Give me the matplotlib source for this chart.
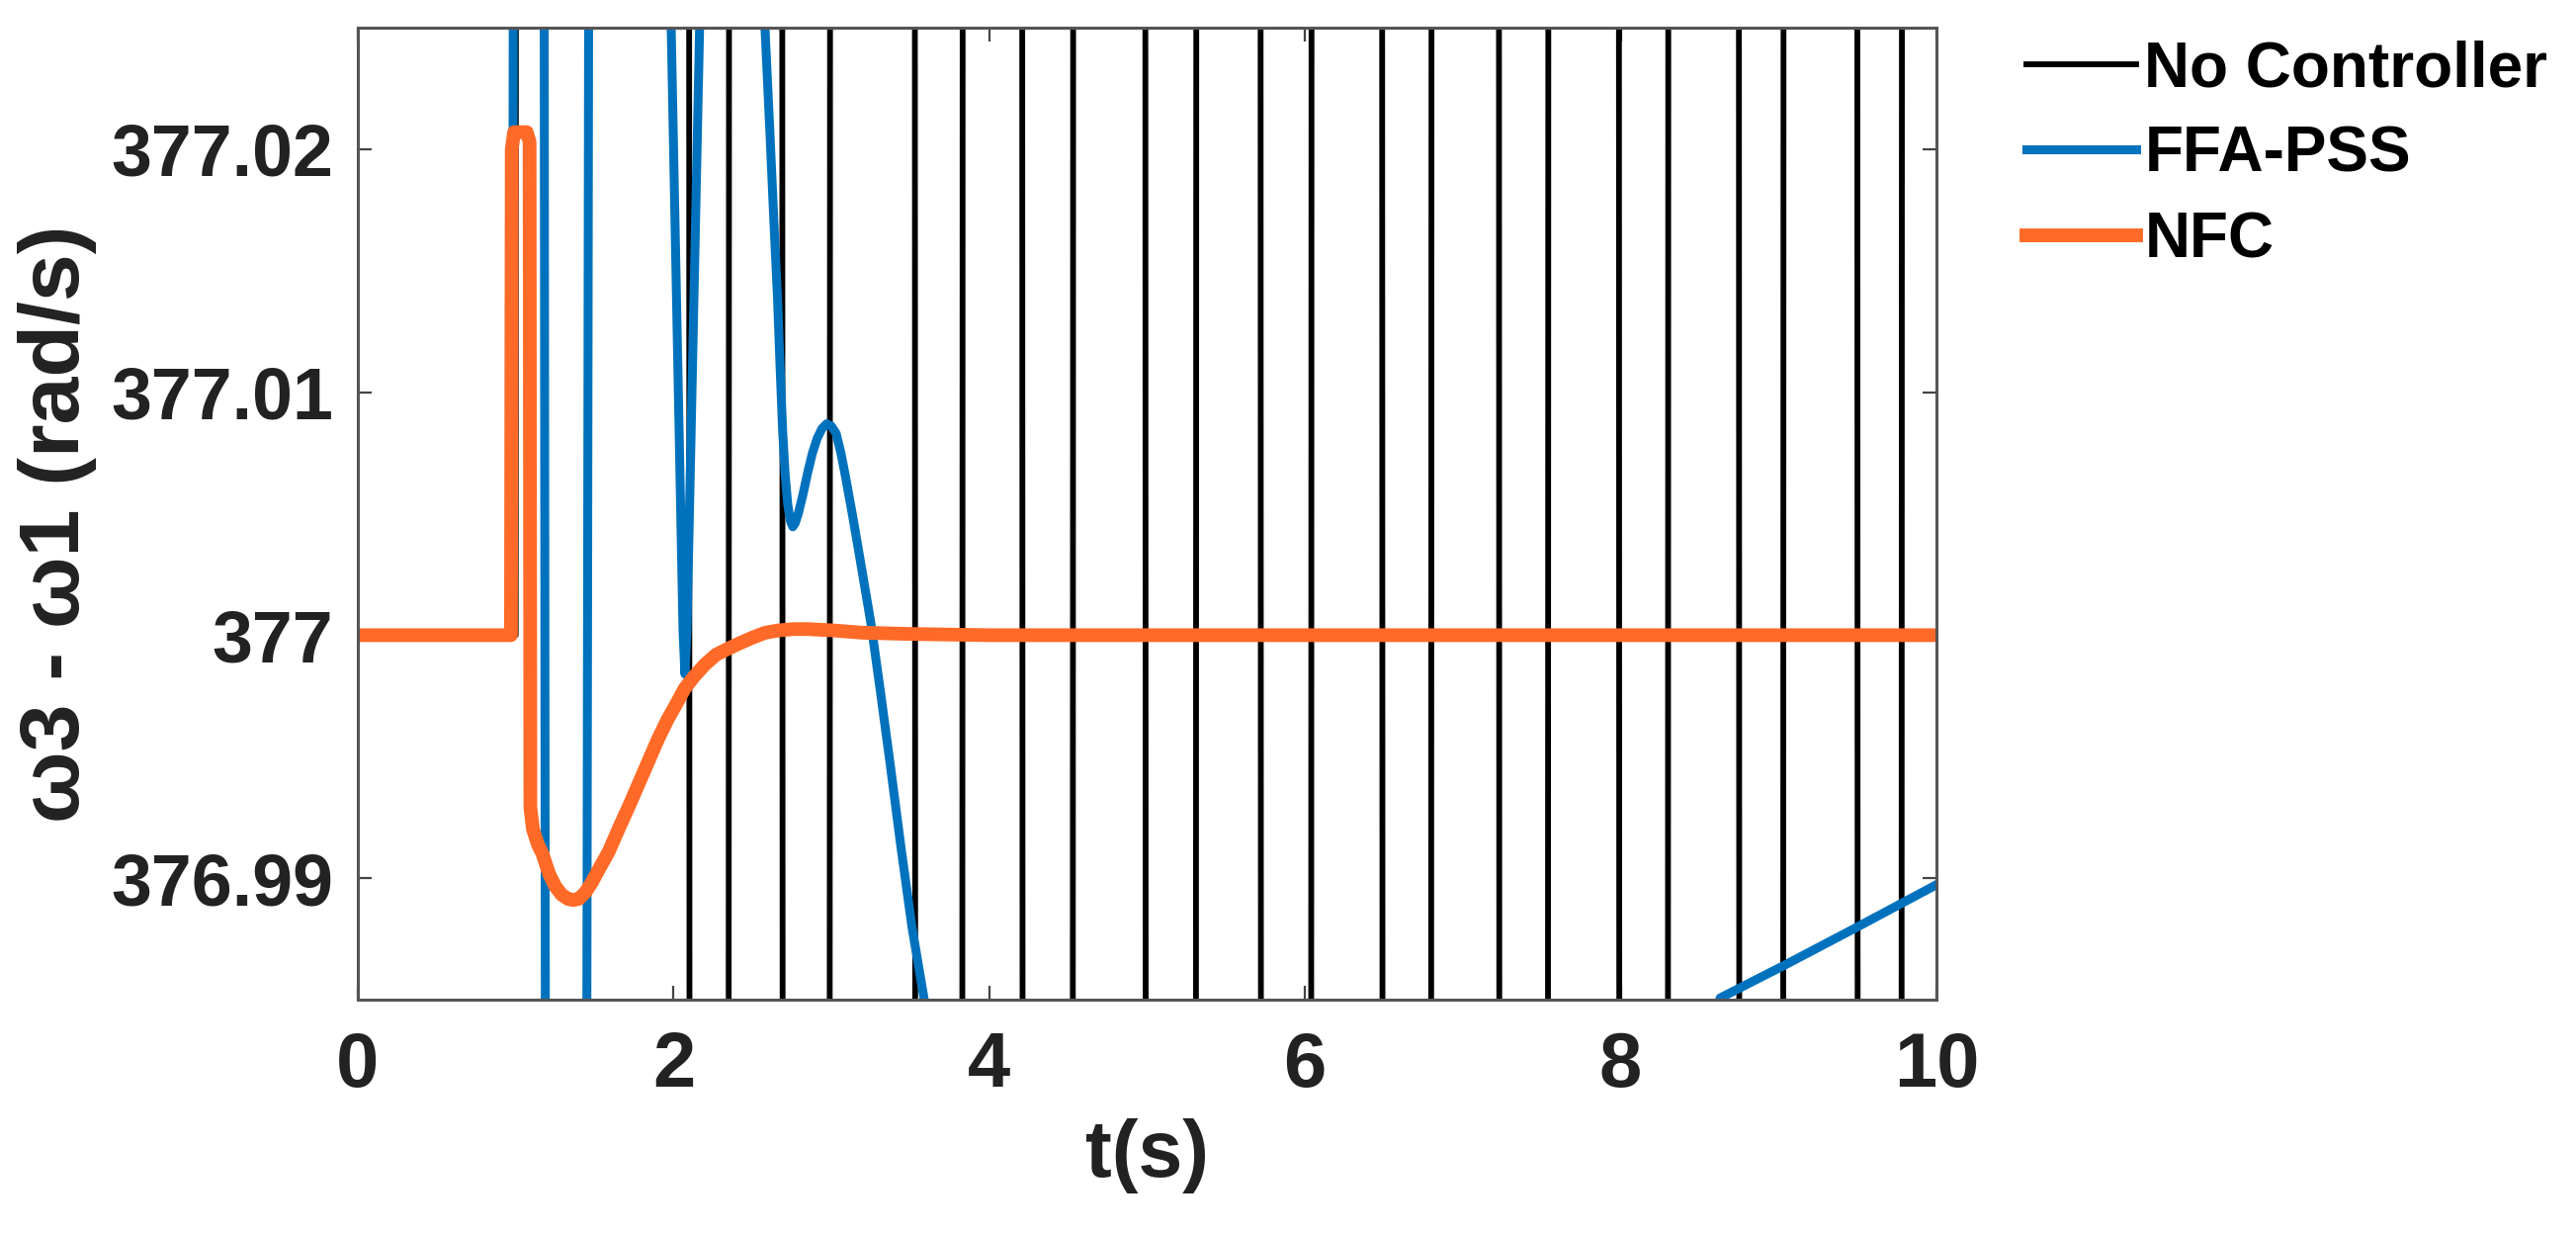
import matplotlib
matplotlib.use("Agg")
import matplotlib.pyplot as plt

# ---------------- data ----------------
# No Controller: wild oscillation; the visible part is near-vertical traversals
nc_t = [0.0, 1.00, 1.03,
        2.07, 2.13, 2.32, 2.38, 2.66, 2.72, 2.96, 3.02, 3.50, 3.56, 3.80, 3.86,
        4.18, 4.24, 4.50, 4.56, 4.96, 5.02, 5.28, 5.34, 5.69, 5.75, 6.01, 6.07,
        6.46, 6.52, 6.77, 6.83, 7.20, 7.26, 7.51, 7.57, 7.96, 8.02, 8.27, 8.33,
        8.72, 8.78, 9.00, 9.06, 9.47, 9.53, 9.75, 9.81, 10.0]
nc_v = [377.0, 377.0, 377.6,
        377.6, 376.4, 376.4, 377.6, 377.6, 376.4, 376.4, 377.6, 377.6, 376.4, 376.4, 377.6,
        377.6, 376.4, 376.4, 377.6, 377.6, 376.4, 376.4, 377.6, 377.6, 376.4, 376.4, 377.6,
        377.6, 376.4, 376.4, 377.6, 377.6, 376.4, 376.4, 377.6, 377.6, 376.4, 376.4, 377.6,
        377.6, 376.4, 376.4, 377.6, 377.6, 376.4, 376.4, 377.6, 377.6]

# FFA-PSS
ffa_t = [0.0, 0.98, 1.08, 1.29, 1.62, 1.90, 1.985, 2.06, 2.072, 2.085, 2.165, 2.30, 2.45,
         2.579, 2.595, 2.611, 2.635, 2.659, 2.675, 2.691, 2.707, 2.723, 2.74, 2.755, 2.77,
         2.79, 2.82, 2.85, 2.88, 2.91, 2.94, 2.97, 3.00, 3.03, 3.06, 3.09, 3.14, 3.19,
         3.25, 3.31, 3.37, 3.44, 3.51, 3.585, 3.9, 4.5, 5.3, 6.2, 7.0, 7.8, 8.3,
         8.63, 9.05, 9.51, 10.0]
ffa_v = [377.0, 377.0, 377.6, 376.4, 377.6, 377.3, 377.025, 377.0002, 376.9984, 377.0002, 377.025, 377.2, 377.2,
         377.0250, 377.0228, 377.0206, 377.0171, 377.0138, 377.0110, 377.0084, 377.0066, 377.0054, 377.0047, 377.00446, 377.0046,
         377.0050, 377.0058, 377.0067, 377.0075, 377.0081, 377.0085, 377.0087, 377.0086, 377.0083, 377.0075, 377.0065, 377.0047, 377.0028,
         377.0005, 376.9977, 376.9948, 376.9913, 376.9880, 376.98511, 376.972, 376.958, 376.948, 376.946, 376.952, 376.966, 376.977,
         376.98507, 376.98646, 376.98803, 376.98973]

# NFC
nfc_t = [0.0, 0.97, 0.975, 0.99, 1.07, 1.088, 1.093, 1.11, 1.14, 1.17, 1.21, 1.25, 1.29, 1.33,
         1.365, 1.40, 1.44, 1.48, 1.53, 1.59, 1.65, 1.72, 1.78, 1.84, 1.90, 1.96, 2.02, 2.07,
         2.13, 2.20, 2.27, 2.35, 2.43, 2.50, 2.58, 2.67, 2.76, 2.85, 3.0, 3.2, 3.5, 4.0, 10.0]
nfc_v = [377.0, 377.0, 377.0200, 377.0207, 377.0207, 377.0203, 376.9929, 376.9920, 376.9914, 376.9910,
         376.9902, 376.98967, 376.98933, 376.98915, 376.98910, 376.98915, 376.9894, 376.9898, 376.9904,
         376.9911, 376.9920, 376.9930, 376.9939, 376.9948, 376.9957, 376.9965, 376.9972, 376.9978,
         376.9983, 376.9988, 376.9992, 376.99946, 376.9997, 376.9999, 377.0001, 377.0002, 377.00025,
         377.00025, 377.0002, 377.0001, 377.00005, 377.0, 377.0]

labels = ["No Controller", "FFA-PSS", "NFC"]
colors = ["#000000", "#0072BD", "#FF6A28"]

x_ticks = [0, 2, 4, 6, 8, 10]
y_ticks = [376.99, 377.0, 377.01, 377.02]
y_ticklabels = ["376.99", "377", "377.01", "377.02"]

# ---------------- plot ----------------
plt.rcParams['font.family'] = ['Liberation Sans', 'DejaVu Sans']
plt.rcParams['font.weight'] = 'bold'

fig = plt.figure(figsize=(26.06, 12.48), dpi=100)
ax = fig.add_axes([362/2606, 1 - 1011/1248, (1959-362)/2606, (1011-28)/1248])

ax.plot(nc_t, nc_v, color=colors[0], lw=4.2, label=labels[0])
ax.plot(ffa_t, ffa_v, color=colors[1], lw=6.5, label=labels[1])
ax.plot(nfc_t, nfc_v, color=colors[2], lw=10.0, label=labels[2])

ax.set_xlim(0, 10)
ax.set_ylim(376.985, 377.025)
ax.set_xticks(x_ticks)
ax.set_xticklabels([str(v) for v in x_ticks])
ax.set_yticks(y_ticks)
ax.set_yticklabels(y_ticklabels)

txt_color = "#222222"
ax.tick_params(axis='both', which='both', direction='in', length=10, width=1.6,
               color="#444444", top=True, right=True, labelcolor=txt_color)
ax.tick_params(axis='x', labelsize=56, pad=22)
ax.tick_params(axis='y', labelsize=53, pad=18)
for lab in ax.get_xticklabels() + ax.get_yticklabels():
    lab.set_fontweight('bold')
for sp in ax.spines.values():
    sp.set_color("#555555")
    sp.set_linewidth(2.2)

ax.set_xlabel("t(s)", fontsize=58, fontweight='bold', color=txt_color, labelpad=12)
ax.set_ylabel("ω3 - ω1 (rad/s)", fontsize=62, fontweight='bold', color=txt_color)
ax.yaxis.set_label_coords(-0.165, 0.49)

leg = fig.legend(loc='upper left', bbox_to_anchor=(2050/2606, 1 - 40/1248),
                 frameon=False, fontsize=46, handlelength=1.73, handletextpad=0.14,
                 labelspacing=0.42, borderpad=0, borderaxespad=0)
for t in leg.get_texts():
    t.set_fontweight('bold')

fig.savefig("out.png", dpi=100)
